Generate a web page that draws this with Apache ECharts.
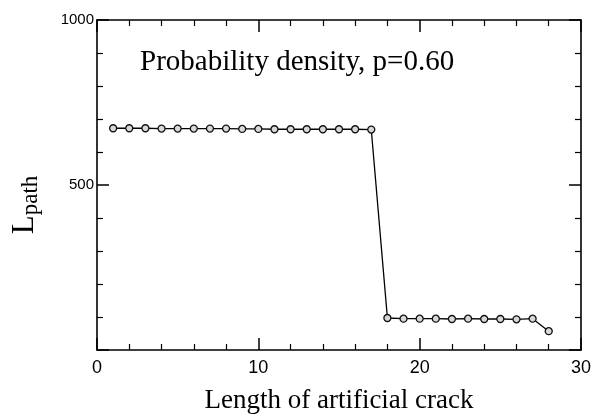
<!DOCTYPE html>
<html>
<head>
<meta charset="utf-8">
<script src="https://cdn.jsdelivr.net/npm/echarts@6/dist/echarts.min.js"></script>
<style>
  html, body { margin: 0; padding: 0; background: #fff; }
  #main { width: 597px; height: 416px; }
</style>
</head>
<body>
<div id="main"></div>
<script>
// crack length vs path length
var crackLength = [1, 2, 3, 4, 5, 6, 7, 8, 9, 10, 11, 12, 13, 14, 15, 16, 17,
  18, 19, 20, 21, 22, 23, 24, 25, 26, 27, 28];
var pathLength = [672, 672, 672, 671, 671, 671, 671, 671, 670, 670, 669, 669, 669, 669, 669, 669, 668,
  97, 95, 95, 95, 94, 95, 94, 94, 93, 95, 57];
var xTicks = [0, 10, 20, 30];
var yTicks = [500, 1000];

var points = [];
for (var i = 0; i < crackLength.length; i++) {
  points.push([crackLength[i], pathLength[i]]);
}

var serif = "'Liberation Serif', 'DejaVu Serif', serif";
var sans = "'Liberation Sans', 'DejaVu Sans', sans-serif";

function frameAxis(extra) {
  var a = {
    type: "value",
    axisLine: { show: true, onZero: false, lineStyle: { color: "#000", width: 1.6 } },
    axisTick: { show: true, inside: true, length: 12, lineStyle: { color: "#000", width: 1.5 } },
    minorTick: { show: true, splitNumber: 5, length: 6, lineStyle: { color: "#000", width: 1.2 } },
    splitLine: { show: false },
    minorSplitLine: { show: false },
    axisLabel: { show: false }
  };
  for (var k in extra) a[k] = extra[k];
  return a;
}

var option = {
  animation: false,
  backgroundColor: "#fff",
  title: {
    text: "Probability density, p=0.60",
    left: 135,
    top: 43,
    textStyle: { fontFamily: serif, fontWeight: "normal", fontSize: 29, color: "#000" }
  },
  grid: { left: 97, right: 16, top: 20, bottom: 66, outerBoundsMode: "none", containLabel: false },
  xAxis: [
    frameAxis({
      position: "bottom",
      min: 0,
      max: 30,
      interval: 10,
      name: "Length of artificial crack",
      nameLocation: "middle",
      nameGap: 37,
      nameTextStyle: { fontFamily: serif, fontSize: 27, color: "#000" },
      axisLabel: {
        show: true,
        fontFamily: sans,
        fontSize: 18,
        color: "#000",
        margin: 9,
        formatter: function (v) { return xTicks.indexOf(v) >= 0 ? String(v) : ""; }
      }
    }),
    frameAxis({ position: "top", min: 0, max: 30, interval: 10 })
  ],
  yAxis: [
    frameAxis({
      position: "left",
      min: 0,
      max: 1000,
      interval: 500,
      name: "{l|L}{s|path}",
      nameLocation: "middle",
      nameRotate: 90,
      nameGap: 55,
      nameTextStyle: {
        color: "#000",
        padding: [0, 40, 0, 0],
        rich: {
          l: { fontFamily: serif, fontSize: 31, color: "#000" },
          s: { fontFamily: serif, fontSize: 23, color: "#000", padding: [12, 0, 0, 0] }
        }
      },
      axisLabel: {
        show: true,
        fontFamily: sans,
        fontSize: 15,
        color: "#000",
        margin: 3,
        formatter: function (v) { return yTicks.indexOf(v) >= 0 ? String(v) : ""; }
      }
    }),
    frameAxis({ position: "right", min: 0, max: 1000, interval: 500 })
  ],
  series: [
    {
      type: "line",
      data: points,
      symbol: "circle",
      symbolSize: 7,
      lineStyle: { color: "#000", width: 1.3 },
      itemStyle: { color: "#d8d8d8", borderColor: "#111", borderWidth: 1.3 }
    }
  ]
};

var myChart = echarts.init(document.getElementById("main"));
myChart.setOption(option);
</script>
</body>
</html>
